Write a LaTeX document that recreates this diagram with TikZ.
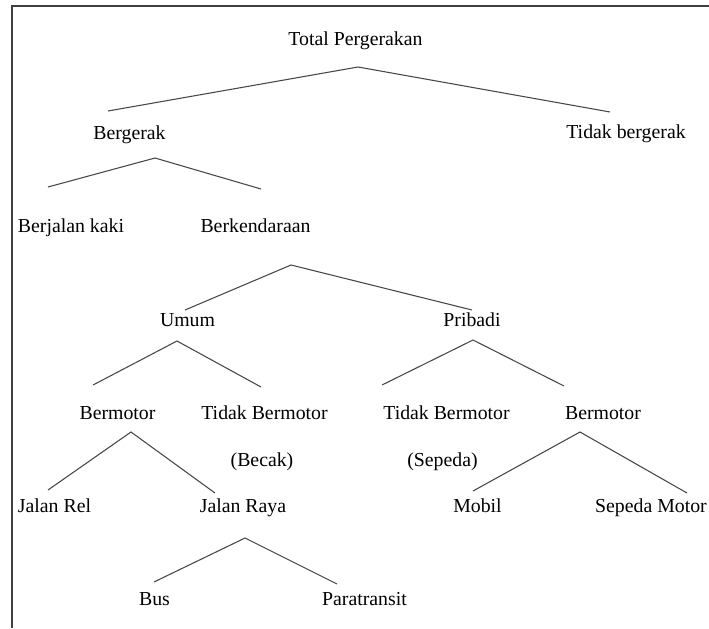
\documentclass[tikz,border=0pt]{standalone}
\usepackage{fontspec}
\setmainfont{Liberation Serif}
\usepackage{tikz}
\usetikzlibrary{calc}

\begin{document}
\begin{tikzpicture}[
  x=0.75pt, y=-0.75pt,
  lbl/.style={
    anchor=base, inner sep=0pt, text=black,
    font=\fontsize{14.85}{17}\selectfont
  },
  branch/.style={draw=black!72, line width=0.8pt},
  frame/.style={draw=black!75, line width=1.5pt},
]
\useasboundingbox (0,0) rectangle (709,628);
\draw[frame] (12,628) -- (12,6) -- (709,6);
% Level 0
\node[lbl] (tp)   at (355.5,45)  {Total Pergerakan};
% Level 1
\node[lbl] (bg)   at (129.5,139) {Bergerak};
\node[lbl] (tbg)  at (626,138)   {Tidak bergerak};
% Level 2
\node[lbl] (bjk)  at (71,232)    {Berjalan kaki};
\node[lbl] (bkd)  at (255.5,232) {Berkendaraan};
% Level 3
\node[lbl] (umum) at (187.5,326) {Umum};
\node[lbl] (prb)  at (472,326)   {Pribadi};
% Level 4
\node[lbl] (bmL)   at (117.5,419) {Bermotor};
\node[lbl] (tbmL)  at (264.5,419) {Tidak Bermotor};
\node[lbl] (becak) at (262,466)   {(Becak)};
\node[lbl] (tbmR)  at (446.5,419) {Tidak Bermotor};
\node[lbl] (sepeda) at (442.5,466) {(Sepeda)};
\node[lbl] (bmR)   at (603,419)   {Bermotor};
% Level 5
\node[lbl] (jrel)  at (54.5,512)  {Jalan Rel};
\node[lbl] (jraya) at (243,512)   {Jalan Raya};
\node[lbl] (mobil) at (477.5,512) {Mobil};
\node[lbl] (spm)   at (651,512)   {Sepeda Motor};
% Level 6
\node[lbl] (bus)   at (154.5,605) {Bus};
\node[lbl] (para)  at (364.5,605) {Paratransit};
% Branches
\draw[branch] ($(bg.base)+(-21.5,-28)$) -- ($(tp.base)+(2.5,22)$) -- ($(tbg.base)+(-16,-26)$);
\draw[branch] ($(bjk.base)+(-23,-45)$) -- ($(bg.base)+(25.5,19)$) -- ($(bkd.base)+(5.5,-43)$);
\draw[branch] ($(umum.base)+(-2.5,-16)$) -- ($(bkd.base)+(35.5,33)$) -- ($(prb.base)+(0,-16)$);
\draw[branch] ($(bmL.base)+(-24.5,-34)$) -- ($(umum.base)+(-10.5,15)$) -- ($(tbmL.base)+(-3.5,-32)$);
\draw[branch] ($(tbmR.base)+(-64.5,-34)$) -- ($(prb.base)+(1,14)$) -- ($(bmR.base)+(-39,-33)$);
\draw[branch] ($(jrel.base)+(-6.5,-22)$) -- ($(bmL.base)+(13.5,13)$) -- ($(jraya.base)+(-28,-19)$);
\draw[branch] ($(mobil.base)+(-4.5,-21)$) -- ($(bmR.base)+(-23,13)$) -- ($(spm.base)+(36,-19)$);
\draw[branch] ($(bus.base)+(-0.5,-23)$) -- ($(jraya.base)+(2,26)$) -- ($(para.base)+(-27.5,-21)$);
\end{tikzpicture}
\end{document}
